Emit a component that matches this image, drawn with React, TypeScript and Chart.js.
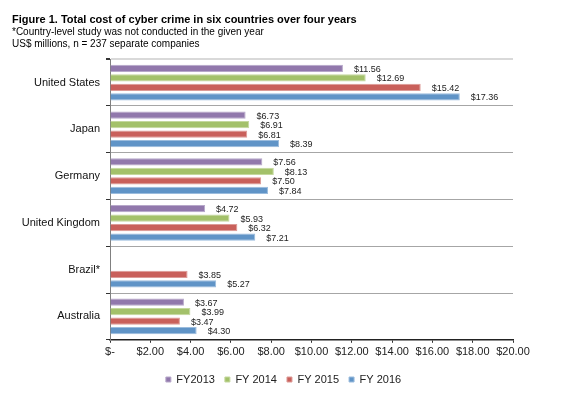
import React, { useEffect, useRef } from "react";
import { Chart, registerables } from "chart.js";

Chart.register(...registerables);

const countries = ["United States", "Japan", "Germany", "United Kingdom", "Brazil*", "Australia"];
const seriesNames = ["FY2013", "FY 2014", "FY 2015", "FY 2016"];
const fy2013 = [11.56, 6.73, 7.56, 4.72, null, 3.67];
const fy2014 = [12.69, 6.91, 8.13, 5.93, null, 3.99];
const fy2015 = [15.42, 6.81, 7.5, 6.32, 3.85, 3.47];
const fy2016 = [17.36, 8.39, 7.84, 7.21, 5.27, 4.3];
const xTickValues = [0, 2, 4, 6, 8, 10, 12, 14, 16, 18, 20];
const xTickLabels = ["$-", "$2.00", "$4.00", "$6.00", "$8.00", "$10.00", "$12.00", "$14.00", "$16.00", "$18.00", "$20.00"];
const colors = ["#9178AC", "#A3C16A", "#C9605B", "#6094C7"];
const edgeColors = ["#B7A8CA", "#C4D89E", "#DD9B97", "#9BBCDD"];
const titleText = "Figure 1. Total cost of cyber crime in six countries over four years";
const subtitleLines = ["*Country-level study was not conducted in the given year", "US$ millions, n = 237 separate companies"];

const FONT = "'Liberation Sans', Arial, sans-serif";

const valueLabels = {
  id: "valueLabels",
  afterDatasetsDraw(chart: any) {
    const ctx = chart.ctx;
    ctx.save();
    ctx.font = `9px ${FONT}`;
    ctx.fillStyle = "#222";
    ctx.textAlign = "left";
    ctx.textBaseline = "middle";
    chart.data.datasets.forEach((ds: any, di: number) => {
      const meta = chart.getDatasetMeta(di);
      meta.data.forEach((el: any, i: number) => {
        const v = ds.data[i];
        if (v === null || v === undefined) return;
        ctx.fillText("$" + v.toFixed(2), el.x + 11, el.y + 1);
      });
    });
    ctx.restore();
  },
};

const legendShift = {
  id: "legendShift",
  afterLayout(chart: any) {
    const lg = chart.legend;
    if (!lg) return;
    lg.left += 21;
    lg.right += 21;
    lg.top += 2;
    lg.bottom += 2;
  },
};

export default function App() {
  const ref = useRef<HTMLCanvasElement | null>(null);
  useEffect(() => {
    if (!ref.current) return;
    const all = [fy2013, fy2014, fy2015, fy2016];
    const chart = new Chart(ref.current, {
      type: "bar",
      data: {
        labels: countries,
        datasets: all.map((d, i) => ({
          label: seriesNames[i],
          data: d,
          backgroundColor: colors[i],
          borderColor: edgeColors[i],
          borderWidth: 1,
          barPercentage: 0.76,
          categoryPercentage: 0.81,
        })),
      },
      options: {
        indexAxis: "y",
        responsive: false,
        animation: false,
        layout: { padding: { left: 12, right: 71, top: 13, bottom: 0 } },
        plugins: {
          title: {
            display: true,
            text: titleText,
            align: "start",
            color: "#000",
            font: { family: FONT, size: 11, weight: "bold", lineHeight: 1.2 },
            padding: { top: 0, bottom: 0 },
          },
          subtitle: {
            display: true,
            text: subtitleLines,
            align: "start",
            color: "#000",
            font: { family: FONT, size: 10, lineHeight: 1.2 },
            padding: { top: 0, bottom: 9 },
          },
          legend: {
            position: "bottom",
            labels: {
              boxWidth: 5,
              boxHeight: 5,
              padding: 10,
              color: "#222",
              font: { family: FONT, size: 11 },
            },
          },
          tooltip: { enabled: false },
        },
        scales: {
          x: {
            min: 0,
            max: 20,
            afterBuildTicks: (scale: any) => {
              scale.ticks = xTickValues.map((v) => ({ value: v }));
            },
            ticks: {
              color: "#222",
              font: { family: FONT, size: 11 },
              padding: 3,
              maxRotation: 0,
              minRotation: 0,
              autoSkip: false,
              callback: (v: any) => {
                const idx = xTickValues.indexOf(Number(v));
                return idx >= 0 ? xTickLabels[idx] : "";
              },
            },
            grid: { drawOnChartArea: false, drawTicks: true, tickLength: 3, tickColor: "#333" },
            border: { color: "#222", width: 1.5 },
          },
          y: {
            afterFit: (scale: any) => {
              scale.width = 98;
            },
            ticks: {
              color: "#111",
              font: { family: FONT, size: 11 },
              padding: 6,
            },
            grid: {
              offset: true,
              tickLength: 4,
              tickColor: "#333",
              color: (c: any) => (c.index === 0 ? "#D9D9D9" : "#A6A6A6"),
              lineWidth: (c: any) => (c.index === 0 ? 2 : 1),
            },
            border: { color: "#808080", width: 1 },
          },
        },
      },
      plugins: [valueLabels, legendShift],
    } as any);
    return () => chart.destroy();
  }, []);
  return (
    <div style={{ position: "absolute", left: 0, top: 0, width: 584, height: 393, background: "#fff" }}>
      <canvas ref={ref} width={584} height={393} style={{ display: "block" }} />
    </div>
  );
}
